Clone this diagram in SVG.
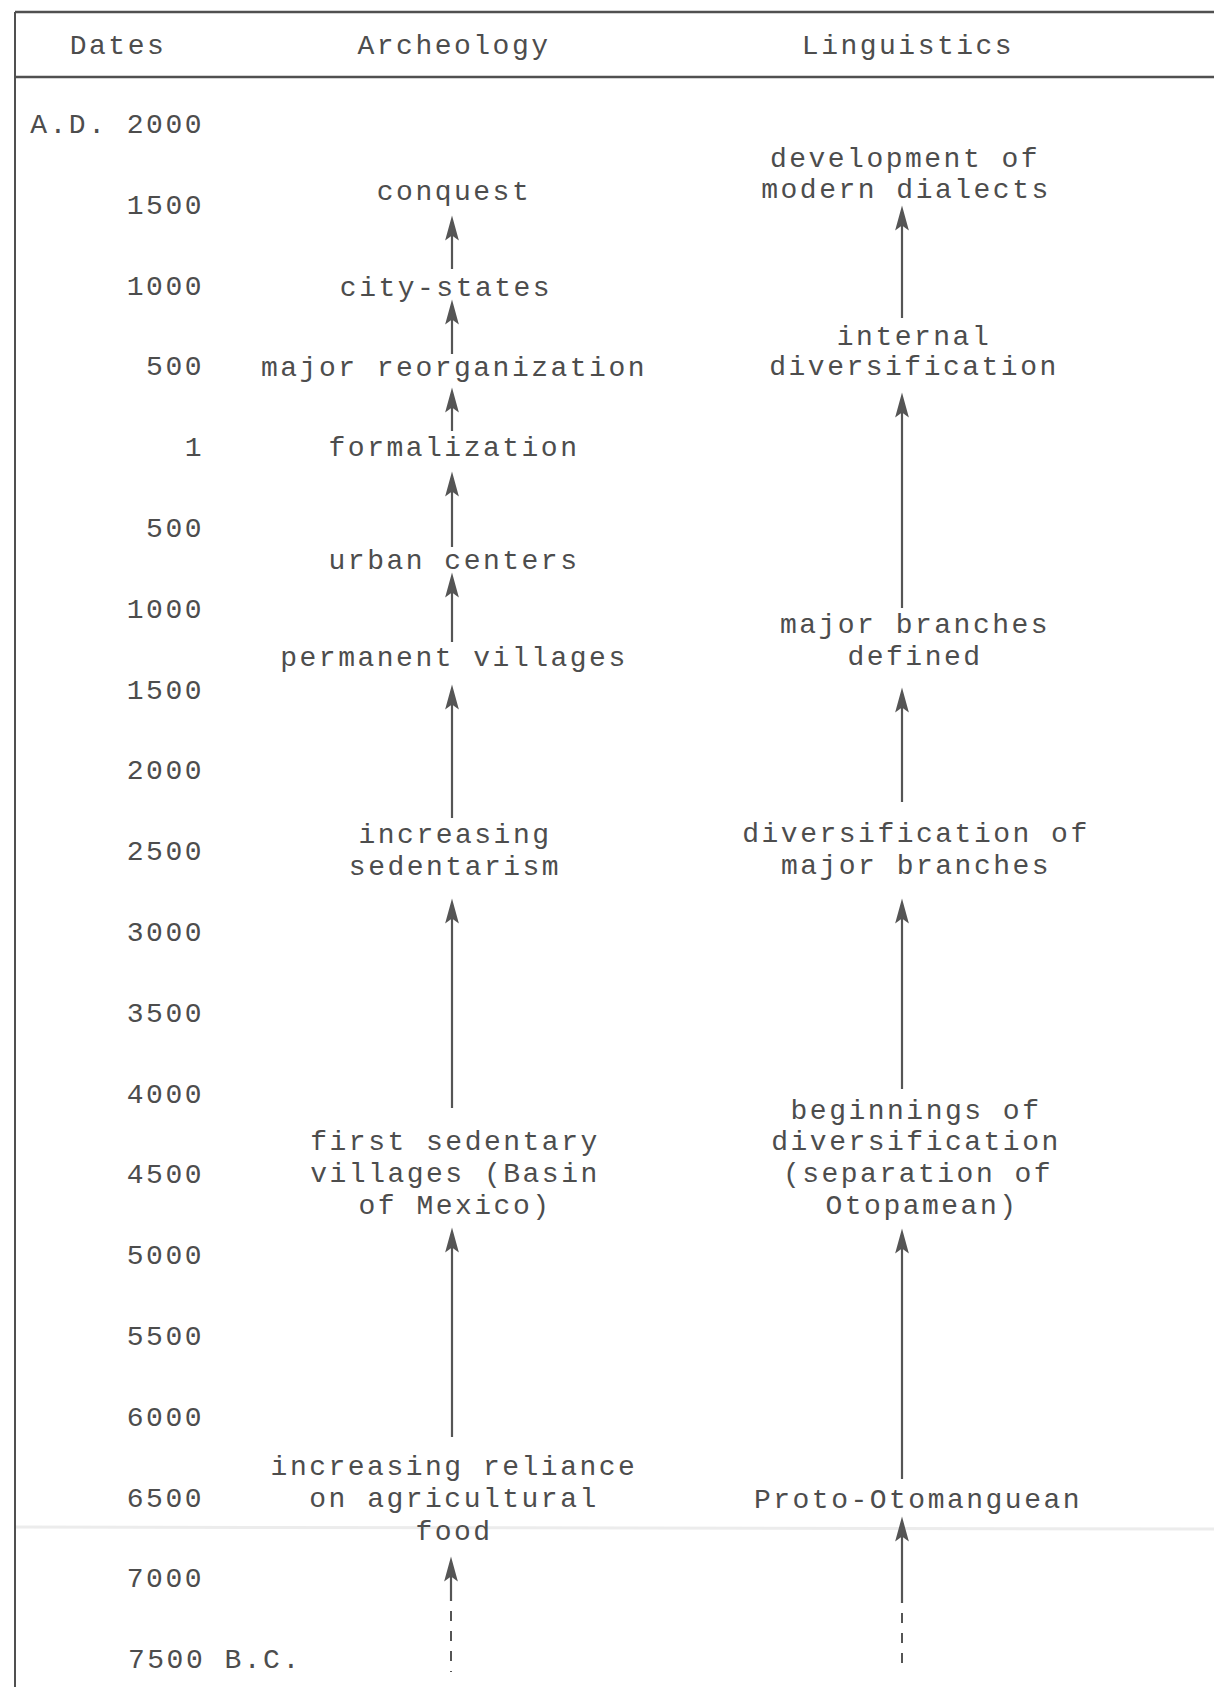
<svg xmlns="http://www.w3.org/2000/svg" width="1214" height="1687" viewBox="0 0 1214 1687">
<style>
text{font-family:"Liberation Mono","Courier New",monospace;font-size:28px;letter-spacing:2.5px;fill:#4d4d4d}
.d{text-anchor:end}
.m{text-anchor:middle}
.rule{stroke:#505050;fill:none}
.ar{stroke:#555;stroke-width:2.2;fill:none}
.dash{stroke:#555;stroke-width:2;fill:none;stroke-dasharray:10 10}
</style>
<defs>
<marker id="ah" markerUnits="userSpaceOnUse" orient="auto" markerWidth="30" markerHeight="20" viewBox="-16 -8 24 16" refX="0" refY="0">
<path d="M6,0 L-14,-5.5 L-10,0 L-14,5.5 Z" fill="#555"/>
</marker>
</defs>
<rect width="1214" height="1687" fill="#fff"/>
<line x1="15" y1="1527" x2="1214" y2="1529" stroke="#ececec" stroke-width="3"/>
<g id="frame">
<line class="rule" x1="15" y1="12" x2="1214" y2="12" stroke-width="2.5"/>
<line class="rule" x1="15" y1="77" x2="1214" y2="77" stroke-width="2.5"/>
<line class="rule" x1="15" y1="12" x2="15" y2="1687" stroke-width="2"/>
</g>
<g id="header">
<text class="m" x="118" y="54">Dates</text>
<text class="m" x="454" y="54">Archeology</text>
<text class="m" x="908" y="54">Linguistics</text>
</g>
<g id="dates">
<text class="d" x="204" y="133">A.D. 2000</text>
<text class="d" x="204" y="214">1500</text>
<text class="d" x="204" y="295">1000</text>
<text class="d" x="204" y="375">500</text>
<text class="d" x="204" y="456">1</text>
<text class="d" x="204" y="537">500</text>
<text class="d" x="204" y="618">1000</text>
<text class="d" x="204" y="699">1500</text>
<text class="d" x="204" y="779">2000</text>
<text class="d" x="204" y="860">2500</text>
<text class="d" x="204" y="941">3000</text>
<text class="d" x="204" y="1022">3500</text>
<text class="d" x="204" y="1103">4000</text>
<text class="d" x="204" y="1183">4500</text>
<text class="d" x="204" y="1264">5000</text>
<text class="d" x="204" y="1345">5500</text>
<text class="d" x="204" y="1426">6000</text>
<text class="d" x="204" y="1507">6500</text>
<text class="d" x="204" y="1587">7000</text>
<text x="128" y="1668">7500 B.C.</text>
</g>
<g id="arch-conquest"><text class="m" x="454" y="200">conquest</text></g>
<g id="arch-city-states"><text class="m" x="446" y="296">city-states</text></g>
<g id="arch-major-reorganization"><text class="m" x="454" y="376">major reorganization</text></g>
<g id="arch-formalization"><text class="m" x="454" y="456">formalization</text></g>
<g id="arch-urban-centers"><text class="m" x="454" y="569">urban centers</text></g>
<g id="arch-permanent-villages"><text class="m" x="454" y="666">permanent villages</text></g>
<g id="arch-increasing-sedentarism">
<text class="m" x="455" y="843">increasing</text>
<text class="m" x="455" y="875">sedentarism</text>
</g>
<g id="arch-first-sedentary-villages">
<text class="m" x="455" y="1150">first sedentary</text>
<text class="m" x="455" y="1182">villages (Basin</text>
<text class="m" x="455" y="1214">of Mexico)</text>
</g>
<g id="arch-agricultural-food">
<text class="m" x="454" y="1475">increasing reliance</text>
<text class="m" x="454" y="1507">on agricultural</text>
<text class="m" x="454" y="1540">food</text>
</g>
<g id="ling-modern-dialects">
<text class="m" x="905" y="167">development of</text>
<text class="m" x="906" y="198">modern dialects</text>
</g>
<g id="ling-internal-diversification">
<text class="m" x="914" y="345">internal</text>
<text class="m" x="914" y="375">diversification</text>
</g>
<g id="ling-major-branches-defined">
<text class="m" x="915" y="633">major branches</text>
<text class="m" x="915" y="665">defined</text>
</g>
<g id="ling-diversification-major-branches">
<text class="m" x="916" y="842">diversification of</text>
<text class="m" x="916" y="874">major branches</text>
</g>
<g id="ling-beginnings">
<text class="m" x="916" y="1119">beginnings of</text>
<text class="m" x="916" y="1150">diversification</text>
<text class="m" x="918" y="1182">(separation of</text>
<text class="m" x="922" y="1214">Otopamean)</text>
</g>
<g id="ling-proto-otomanguean"><text class="m" x="918" y="1508">Proto-Otomanguean</text></g>
<g id="connectors">
<line class="ar" x1="452" y1="269" x2="452" y2="223" marker-end="url(#ah)"/>
<line class="ar" x1="452" y1="354" x2="452" y2="307" marker-end="url(#ah)"/>
<line class="ar" x1="452" y1="431" x2="452" y2="395" marker-end="url(#ah)"/>
<line class="ar" x1="452" y1="547" x2="452" y2="479" marker-end="url(#ah)"/>
<line class="ar" x1="452" y1="642" x2="452" y2="580" marker-end="url(#ah)"/>
<line class="ar" x1="452" y1="818" x2="452" y2="692" marker-end="url(#ah)"/>
<line class="ar" x1="452" y1="1108" x2="452" y2="906" marker-end="url(#ah)"/>
<line class="ar" x1="452" y1="1437" x2="452" y2="1235" marker-end="url(#ah)"/>
<line class="ar" x1="451" y1="1601" x2="451" y2="1564" marker-end="url(#ah)"/>
<line class="dash" x1="451" y1="1611" x2="451" y2="1672"/>
<line class="ar" x1="902" y1="318" x2="902" y2="213" marker-end="url(#ah)"/>
<line class="ar" x1="902" y1="608" x2="902" y2="400" marker-end="url(#ah)"/>
<line class="ar" x1="902" y1="802" x2="902" y2="695" marker-end="url(#ah)"/>
<line class="ar" x1="902" y1="1089" x2="902" y2="906" marker-end="url(#ah)"/>
<line class="ar" x1="902" y1="1479" x2="902" y2="1236" marker-end="url(#ah)"/>
<line class="ar" x1="902" y1="1603" x2="902" y2="1524" marker-end="url(#ah)"/>
<line class="dash" x1="902" y1="1613" x2="902" y2="1672"/>
</g>
</svg>
